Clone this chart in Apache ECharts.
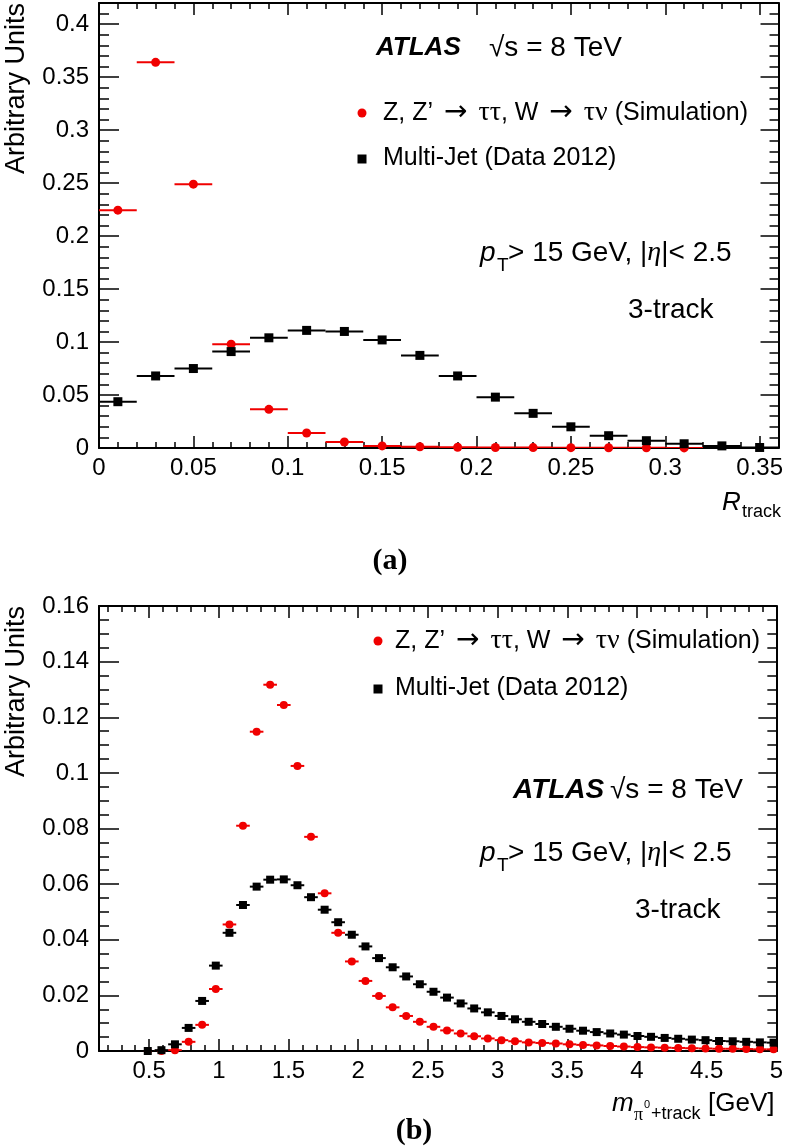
<!DOCTYPE html>
<html>
<head>
<meta charset="utf-8">
<title>R_track / m_pi0+track (3-track)</title>
<script src="https://cdn.jsdelivr.net/npm/echarts@6/dist/echarts.min.js"></script>
<style>
    html, body { margin: 0; padding: 0; background: #fff; }
    #chart { width: 786px; height: 1147px; }
</style>
</head>
<body>
<div id="chart"></div>
<script>
// ---- (a) R_track, bins of 0.02 ----
var rtrkCenters = [0.01, 0.03, 0.05, 0.07, 0.09, 0.11, 0.13, 0.15, 0.17, 0.19,
                   0.21, 0.23, 0.25, 0.27, 0.29, 0.31, 0.33, 0.35];
var rtrkSignal = [0.2245, 0.364, 0.249, 0.098, 0.0365, 0.0142, 0.0057, 0.002,
                  0.0012, 0.0007, 0.0005, 0.0004, 0.0003, 0.0002, 0.0002, 0.0001];
var rtrkJet = [0.0437, 0.068, 0.075, 0.091, 0.104, 0.111, 0.110, 0.102, 0.0874,
               0.068, 0.048, 0.0327, 0.020, 0.0116, 0.0069, 0.004, 0.002, 0.0005];
var rtrkXTicks = [0, 0.05, 0.1, 0.15, 0.2, 0.25, 0.3, 0.35];
var rtrkYTicks = [0, 0.05, 0.1, 0.15, 0.2, 0.25, 0.3, 0.35, 0.4];

// ---- (b) m_pi0+track [GeV] ----
var massCenters = [0.490, 0.588, 0.685, 0.783, 0.880, 0.978, 1.076, 1.173, 1.271, 1.368,
                   1.466, 1.564, 1.661, 1.759, 1.856, 1.954, 2.052, 2.149, 2.247, 2.344,
                   2.442, 2.540, 2.637, 2.735, 2.832, 2.930, 3.028, 3.125, 3.223, 3.320,
                   3.418, 3.516, 3.613, 3.711, 3.808, 3.906, 4.004, 4.101, 4.199, 4.296,
                   4.394, 4.492, 4.589, 4.687, 4.784, 4.882, 4.980];
var massSignal = [0, 0, 0.0003, 0.0033, 0.0094, 0.0223, 0.0455, 0.0810, 0.1148, 0.1317,
                  0.1244, 0.1025, 0.0770, 0.0567, 0.0425, 0.0322, 0.0252, 0.0198, 0.0157, 0.0126,
                  0.0105, 0.0087, 0.0074, 0.0063, 0.0053, 0.0045, 0.0039, 0.0035, 0.0031, 0.0029,
                  0.0027, 0.0024, 0.0022, 0.0020, 0.0018, 0.0016, 0.0014, 0.0013, 0.0012, 0.0011,
                  0.0010, 0.0009, 0.0008, 0.0008, 0.0007, 0.0006, 0.0006];
var massJet = [0, 0.0003, 0.0024, 0.0083, 0.0180, 0.0307, 0.0425, 0.0525, 0.0591, 0.0616,
               0.0617, 0.0596, 0.0553, 0.0508, 0.0463, 0.0418, 0.0376, 0.0334, 0.0301, 0.0268,
               0.0240, 0.0213, 0.0192, 0.0171, 0.0153, 0.0139, 0.0126, 0.0114, 0.0105, 0.0097,
               0.0087, 0.0080, 0.0073, 0.0068, 0.0063, 0.0059, 0.0054, 0.0051, 0.0047, 0.0044,
               0.0041, 0.0039, 0.0036, 0.0035, 0.0033, 0.0031, 0.0030];
var massXTicks = [0.5, 1, 1.5, 2, 2.5, 3, 3.5, 4, 4.5, 5];
var massYTicks = [0, 0.02, 0.04, 0.06, 0.08, 0.1, 0.12, 0.14, 0.16];

var sigName = 'Z, Z\u2019 \u2192 \u03c4\u03c4, W \u2192 \u03c4\u03bd (Simulation)';
var jetName = 'Multi-Jet (Data 2012)';
// same label with symbol-font pieces for the drawn legend
var sigRich = '{n|Z, Z\u2019 }{s|\u2192}{g| \u03c4\u03c4}{n|, W }{s|\u2192}{g| \u03c4\u03bd}{n| (Simulation)}';

var RED = '#f00000';
var FONT = '"Liberation Sans", Arial, Helvetica, sans-serif';
var SERIF = '"Liberation Serif", "Times New Roman", serif';
var richSym = {
    n: {fontSize: 25, fontFamily: FONT, fill: '#000'},
    s: {fontSize: 28, fontFamily: '"DejaVu Sans", sans-serif', fill: '#000', padding: [0, 4]},
    g: {fontSize: 28, fontFamily: SERIF, fill: '#000'},
    m: {fontSize: 28, fontFamily: FONT, fill: '#000'},
    i: {fontSize: 28, fontFamily: SERIF, fontStyle: 'italic', fill: '#000'}
};

// minor tick positions
function minorList(from, to, step, every) {
    var out = [];
    for (var i = from; i <= to; i++) {
        if (i % every) out.push(+(i * step).toFixed(4));
    }
    return out;
}

// ROOT-like frame: ticks inside on all four sides, labels only left/bottom
function frame(grid, xr, yr) {
    var line = {show: true, onZero: false, lineStyle: {color: '#000', width: 2}};
    var noLine = {show: false, onZero: false};
    var tickStyle = {color: '#000', width: 1.5};
    var lab = {show: true, fontSize: 24, fontFamily: FONT, color: '#000'};
    function ax(pos, r, showLine, vals, len, labels, margin) {
        return {
            gridIndex: grid, type: 'value', position: pos, min: r.min, max: r.max,
            axisLine: showLine ? line : noLine,
            axisTick: {show: true, inside: true, length: len, customValues: vals, lineStyle: tickStyle},
            axisLabel: labels ? Object.assign({customValues: vals, margin: margin}, lab) : {show: false},
            splitLine: {show: false}
        };
    }
    return {
        x: [
            ax('bottom', xr, true, xr.major, 12, true, 8),
            ax('bottom', xr, false, xr.minor, 6, false),
            ax('top', xr, true, xr.major, 12, false),
            ax('top', xr, false, xr.minor, 6, false)
        ],
        y: [
            ax('left', yr, true, yr.major, 20, true, 10),
            ax('left', yr, false, yr.minor, 10, false),
            ax('right', yr, true, yr.major, 18, false),
            ax('right', yr, false, yr.minor, 9, false)
        ]
    };
}

var frameA = frame(0,
    {min: 0, max: 0.36, major: rtrkXTicks, minor: minorList(0, 36, 0.01, 5)},
    {min: 0, max: 0.42, major: rtrkYTicks, minor: minorList(0, 42, 0.01, 5)});
var frameB = frame(1,
    {min: 0.14, max: 5.0, major: massXTicks, minor: minorList(2, 50, 0.1, 5)},
    {min: 0, max: 0.16, major: massYTicks, minor: minorList(0, 32, 0.005, 4)});

// horizontal bin-width bars
function hbar(color, width) {
    return function (params, api) {
        var x = api.value(0), y = api.value(1), hw = api.value(2);
        var a = api.coord([x - hw, y]);
        var b = api.coord([x + hw, y]);
        return {
            type: 'line',
            shape: {x1: a[0], y1: a[1], x2: b[0], y2: b[1]},
            style: {stroke: color, lineWidth: width}
        };
    };
}

function pts(xs, ys, hw) {
    var out = [];
    for (var i = 0; i < ys.length; i++) {
        if (ys[i] === null) continue;
        out.push(hw === undefined ? [xs[i], ys[i]] : [xs[i], ys[i], hw]);
    }
    return out;
}

function panelSeries(xi, yi, xs, sig, jet, hw, mSize, barW) {
    return [
        {type: 'custom', name: sigName, xAxisIndex: xi, yAxisIndex: yi, clip: true, z: 2,
         renderItem: hbar(RED, barW), data: pts(xs, sig, hw), silent: true},
        {type: 'scatter', name: sigName, xAxisIndex: xi, yAxisIndex: yi, z: 3,
         symbol: 'circle', symbolSize: mSize, itemStyle: {color: RED, opacity: 1},
         data: pts(xs, sig), silent: true},
        {type: 'custom', name: jetName, xAxisIndex: xi, yAxisIndex: yi, clip: true, z: 4,
         renderItem: hbar('#000', barW), data: pts(xs, jet, hw), silent: true},
        {type: 'scatter', name: jetName, xAxisIndex: xi, yAxisIndex: yi, z: 5,
         symbol: 'rect', symbolSize: mSize, itemStyle: {color: '#000', opacity: 1},
         data: pts(xs, jet), silent: true}
    ];
}

function txt(x, y, text, size, extra) {
    return {
        type: 'text', x: x, y: y, z: 100,
        style: Object.assign({
            text: text, fill: '#000', font: size + 'px ' + FONT,
            textAlign: 'left', textVerticalAlign: 'middle'
        }, extra || {})
    };
}

function legendItems(x, yRed, yBlack, tx) {
    return [
        {type: 'circle', shape: {cx: x, cy: yRed, r: 4.5}, style: {fill: RED}, z: 100},
        {type: 'rect', shape: {x: x - 4.5, y: yBlack - 4.5, width: 9, height: 9}, style: {fill: '#000'}, z: 100},
        txt(tx, yRed, sigRich, 25, {rich: richSym}),
        txt(tx, yBlack - 1, jetName, 25)
    ];
}

function ptText(y) {
    return [
        txt(480, y, 'p', 28, {font: 'italic 28px ' + FONT}),
        txt(497, y + 13, 'T', 19),
        txt(508, y, '{m|> 15 GeV, |}{i|\u03b7}{m||< 2.5}', 28, {rich: richSym})
    ];
}

function yTitle(top) {
    var g = txt(17, top, 'Arbitrary Units', 27, {textAlign: 'right'});
    g.rotation = Math.PI / 2;
    return g;
}

var graphics = [].concat(
    // panel (a)
    [yTitle(3),
     txt(376, 48, 'ATLAS', 26, {font: 'italic bold 26px ' + FONT}),
     txt(489, 48, '\u221As = 8 TeV', 28)],
    legendItems(362, 113, 159, 383),
    ptText(253),
    [txt(628, 310, '3-track', 28),
     txt(722, 503, 'R', 26, {font: 'italic 26px ' + FONT}),
     txt(742, 512, 'track', 18),
     txt(390, 561, '(a)', 30, {font: 'bold 30px ' + SERIF, textAlign: 'center'})],
    // panel (b)
    [yTitle(606)],
    legendItems(378, 641, 689, 395),
    [txt(513, 790, 'ATLAS', 28, {font: 'italic bold 28px ' + FONT}),
     txt(610, 790, '\u221As = 8 TeV', 28)],
    ptText(853),
    [txt(635, 910, '3-track', 28),
     txt(612, 1104, 'm', 26, {font: 'italic 26px ' + FONT}),
     txt(634, 1115, '\u03c0', 18, {font: '18px ' + SERIF}),
     txt(644, 1105, '0', 11),
     txt(651, 1114, '+track', 18),
     txt(708, 1104, '[GeV]', 26),
     txt(414, 1131, '(b)', 30, {font: 'bold 30px ' + SERIF, textAlign: 'center'})]
);

var options = {
    backgroundColor: '#fff',
    animation: false,
    grid: [
        {left: 99, top: 3, width: 680, height: 445},
        {left: 99, top: 606, width: 680, height: 445}
    ],
    xAxis: frameA.x.concat(frameB.x),
    yAxis: frameA.y.concat(frameB.y),
    series: panelSeries(0, 0, rtrkCenters, rtrkSignal, rtrkJet, 0.01, 9, 2)
        .concat(panelSeries(4, 4, massCenters, massSignal, massJet, 0.0488, 8, 2)),
    graphic: graphics
};

var myChart = echarts.init(document.getElementById('chart'), null, {renderer: 'canvas'});
myChart.setOption(options);
</script>
</body>
</html>
